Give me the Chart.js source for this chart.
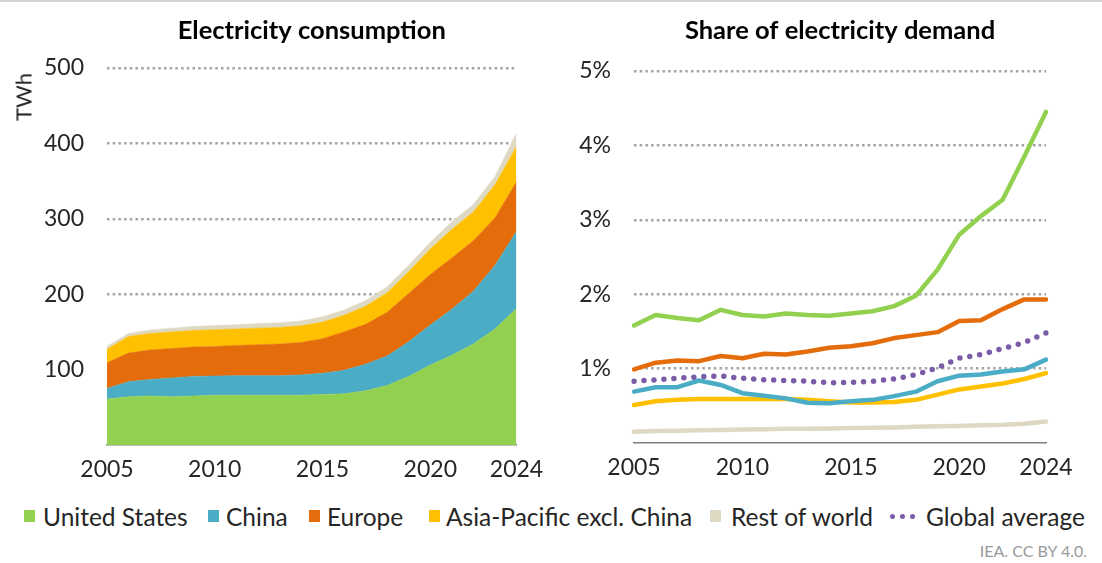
<!DOCTYPE html>
<html><head><meta charset="utf-8">
<script src="https://cdn.jsdelivr.net/npm/chart.js@4.4.1/dist/chart.umd.min.js"></script>
<style>
html,body{margin:0;padding:0;background:#fff;}
body{width:1102px;height:563px;position:relative;overflow:hidden;font-family:Lato,"Open Sans",sans-serif;color:#262626;}
#topline{position:absolute;left:0;top:0;width:1102px;height:2px;background:#d4d4d4;}
#c1{position:absolute;left:0;top:0;}
#c2{position:absolute;left:550px;top:0;}
#twh{position:absolute;left:23px;top:97px;transform:translate(-50%,-50%) rotate(-90deg);font-size:22px;white-space:nowrap;}
.li{position:absolute;top:501px;height:30px;display:flex;align-items:center;font-size:24.5px;white-space:nowrap;}
.sq{position:absolute;width:11px;height:12px;}
.dots{position:absolute;display:flex;gap:5px;}
.dots span{display:inline-block;width:5px;height:5px;border-radius:50%;background:#7a5ca8;}
#src{position:absolute;right:15px;top:541px;font-size:16px;color:#9a9a9a;}
</style>
</head><body>
<div id="topline"></div>
<canvas id="c1" width="560" height="490"></canvas>
<canvas id="c2" width="552" height="490"></canvas>
<div id="twh">TWh</div>
<div id="legend"></div>
<div id="src">IEA. CC BY 4.0.</div>
<script>
// ---- data ----
const years = ['2005','2006','2007','2008','2009','2010','2011','2012','2013','2014','2015','2016','2017','2018','2019','2020','2021','2022','2023','2024'];
const tickYears = ['2005','2010','2015','2020','2024'];
const seriesNames = ['United States','China','Europe','Asia-Pacific excl. China','Rest of world','Global average'];
// Electricity consumption (TWh), stacked
const usTWh    = [61,64,65,64,65,66,66,66,66,66,67,68,72,79,91,106,119,134,154,181];
const chinaTWh = [14,20,22,25,26,25.5,26,26,26,27,28,31,35,39,46,53,61,70,84,102];
const europeTWh= [34,38,39,39,39,39,40,41,42,43,46,51,53,58,64,67,68,67,63,66];
const apacTWh  = [18,22,22,22,22,22.5,22,22,22,22,22,22,24,26,29,34,38,38,44,47];
const rowTWh   = [4,4,4.5,5,5,5.5,5.5,6,6,6.5,7,7,7.5,8,8.5,9,10,10,11,18];
const twhTicks = [100,200,300,400,500];
// Share of electricity demand (%)
const usShare    = [1.58,1.72,1.68,1.65,1.79,1.72,1.70,1.74,1.72,1.71,1.74,1.77,1.84,1.98,2.33,2.80,3.05,3.27,3.85,4.45];
const chinaShare = [0.69,0.75,0.75,0.84,0.78,0.67,0.635,0.60,0.54,0.535,0.56,0.58,0.63,0.69,0.83,0.905,0.92,0.96,0.99,1.12];
const europeShare= [0.99,1.08,1.11,1.10,1.17,1.14,1.20,1.19,1.23,1.28,1.30,1.34,1.41,1.45,1.49,1.64,1.65,1.80,1.93,1.93];
const apacShare  = [0.51,0.56,0.58,0.59,0.59,0.59,0.59,0.59,0.58,0.56,0.545,0.545,0.55,0.58,0.65,0.72,0.76,0.80,0.86,0.94];
const rowShare   = [0.15,0.16,0.165,0.17,0.175,0.18,0.185,0.19,0.19,0.195,0.20,0.205,0.21,0.22,0.225,0.23,0.24,0.245,0.26,0.29];
const globalShare= [0.83,0.85,0.87,0.89,0.90,0.87,0.85,0.84,0.83,0.81,0.815,0.83,0.86,0.92,1.01,1.14,1.19,1.27,1.35,1.48];
const shareTicks = [1,2,3,4,5];

// ---- styles ----
const COLORS = ['#92d050','#4bacc6','#e46c0a','#ffc000','#ddd9c3','#7a5ca8'];
const FONT = 'Lato, "Open Sans", sans-serif';
const TXT = '#262626';

function xTick(v){ const y = this.getLabelForValue(v); return tickYears.includes(y) ? y : ''; }

function baseOptions(title, titlePadBottom, yWidth, padRight, yMax, bottomY, canvasH, yFmt){
  return {
    responsive:false, animation:false, devicePixelRatio:1,
    layout:{padding:{left:0,right:padRight,top:0,bottom:0}},
    elements:{point:{radius:0,hoverRadius:0}, line:{tension:0}},
    plugins:{
      legend:{display:false}, tooltip:{enabled:false},
      title:{display:true, fullSize:false, text:title, color:'#000', font:{family:FONT,size:25.5,weight:'bold',lineHeight:1.2}, padding:{top:15,bottom:titlePadBottom}}
    },
    scales:{
      x:{ z:1,
        grid:{display:false, drawTicks:false},
        border:{display:true, color:'#7f7f7f', width:1.5},
        ticks:{autoSkip:false, maxRotation:0, padding:11, color:TXT, font:{family:FONT,size:23}, callback:xTick},
        afterFit:s=>{ s.height = canvasH - bottomY; }
      },
      y:{ min:0, max:yMax,
        afterBuildTicks:s=>{ s.ticks = (yMax===500?twhTicks:shareTicks).map(v=>({value:v})); },
        grid:{color:'#a3a3a3', lineWidth:2.5, drawTicks:false},
        border:{display:false, dash:[2.5,3.2]},
        ticks:{padding:23, color:TXT, font:{family:FONT,size:23}, callback:yFmt},
        afterFit:s=>{ s.width = yWidth; }
      }
    }
  };
}

// Left: stacked area
const twhSeries = [usTWh, chinaTWh, europeTWh, apacTWh, rowTWh];
const opt1 = baseOptions('Electricity consumption', 22.4, 107, 43.5, 500, 445, 490, v=>String(v));
opt1.scales.y.stacked = true;
new Chart(document.getElementById('c1'), {
  type:'line',
  data:{ labels:years, datasets: twhSeries.map((d,i)=>({
    label:seriesNames[i], data:d, backgroundColor:COLORS[i], borderColor:COLORS[i], borderWidth:0.5,
    fill: i===0 ? 'origin' : '-1'
  }))},
  options:opt1
});

// Right: lines
const shareSeries = [usShare, chinaShare, europeShare, apacShare, rowShare];
const ds2 = shareSeries.map((d,i)=>({
  label:seriesNames[i], data:d, borderColor:COLORS[i], backgroundColor:COLORS[i], borderWidth:4.5, fill:false,
  borderCapStyle:'round', borderJoinStyle:'round', order: i+1
}));
ds2.push({label:seriesNames[5], data:globalShare, borderColor:COLORS[5], backgroundColor:COLORS[5], borderWidth:5.5,
  borderDash:[0,10], borderCapStyle:'round', fill:false, order:0});
new Chart(document.getElementById('c2'), {
  type:'line',
  data:{ labels:years, datasets:ds2 },
  options: baseOptions('Share of electricity demand', 25.4, 84, 56, 5, 443, 490, v=>v+'%')
});

// Legend (HTML): [marker left, text left]
const legendPos = [[24,43],[208,226],[309,327],[429,446],[710,731],[890,926]];
const lg = document.getElementById('legend');
seriesNames.forEach((n,i)=>{
  const m = document.createElement('div');
  if(i<5){ m.className='sq'; m.style.background = COLORS[i]; m.style.top='510px'; }
  else { m.className='dots'; m.innerHTML = '<span></span><span></span><span></span>'; m.style.top='514px'; }
  m.style.left = legendPos[i][0]+'px';
  lg.appendChild(m);
  const t = document.createElement('div'); t.className='li'; t.style.left = legendPos[i][1]+'px'; t.textContent = n;
  lg.appendChild(t);
});
</script>
</body></html>
